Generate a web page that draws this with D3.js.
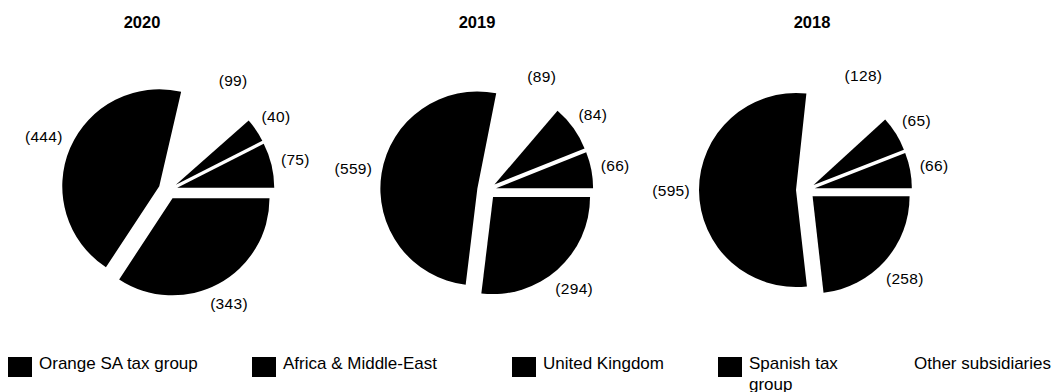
<!DOCTYPE html>
<html>
<head>
<meta charset="utf-8">
<script src="https://cdn.jsdelivr.net/npm/d3@7"></script>
<style>
  html, body { margin: 0; padding: 0; background: #fff; }
  svg { display: block; font-family: "Liberation Sans", Arial, sans-serif; }
</style>
</head>
<body>
<svg id="chart" width="1061" height="392"></svg>
<script>
// Income tax by tax group (in millions of euros), one pie per year
const years = ["2020", "2019", "2018"];
const categories = ["Orange SA tax group", "Africa & Middle-East", "United Kingdom", "Spanish tax group", "Other subsidiaries"];
const values2020 = [444, 343, 75, 40, 99];
const values2019 = [559, 294, 66, 84, 89];
const values2018 = [595, 258, 66, 65, 128];
const sliceColors = ["#000000", "#000000", "#000000", "#000000", "#ffffff"];

const seriesByYear = { "2020": values2020, "2019": values2019, "2018": values2018 };

const radius = 97;
const explode = 9.5;
const labelGap = 6;

const svg = d3.select("#chart");

const pieX = d3.scalePoint().domain(years).range([168, 805.5]);
const titleX = d3.scalePoint().domain(years).range([142, 812]);
const pieY = 190;

const arc = d3.arc().innerRadius(0).outerRadius(radius);
const color = d3.scaleOrdinal().domain(categories).range(sliceColors);

years.forEach(year => {
  const values = seriesByYear[year];
  const total = d3.sum(values);
  // Slices run counter-clockwise; the first two groups end at three o'clock
  const start = Math.PI / 2 + 2 * Math.PI * (values[0] + values[1]) / total;
  const pie = d3.pie().sort(null).value(d => d.value)
    .startAngle(start).endAngle(start - 2 * Math.PI);

  const arcs = pie(values.map((v, i) => ({ name: categories[i], value: v })));

  const g = svg.append("g")
    .attr("transform", `translate(${pieX(year)},${pieY})`);

  // Exploded slices
  g.selectAll("path.slice")
    .data(arcs)
    .join("path")
    .attr("class", "slice")
    .attr("d", arc)
    .attr("fill", d => color(d.data.name))
    .attr("transform", d => {
      const m = (d.startAngle + d.endAngle) / 2;
      return `translate(${explode * Math.sin(m)},${-explode * Math.cos(m)})`;
    });

  // Value labels just outside each slice
  const labels = g.selectAll("text.value")
    .data(arcs)
    .join("text")
    .attr("class", "value")
    .attr("text-anchor", "middle")
    .attr("dominant-baseline", "central")
    .attr("font-size", 15.5)
    .attr("letter-spacing", 0.3)
    .attr("fill", "#000")
    .text(d => `(${d.data.value})`);

  labels.each(function (d) {
    const box = this.getBBox();
    const m = (d.startAngle + d.endAngle) / 2;
    const s = Math.sin(m), c = -Math.cos(m);
    const ext = Math.abs(s) * (box.width / 2 + 3) + Math.abs(c) * 6.5;
    const r = radius + explode + labelGap + ext;
    d3.select(this).attr("x", r * s).attr("y", r * c);
  });

  // Year title
  svg.append("text")
    .attr("x", titleX(year))
    .attr("y", 28)
    .attr("text-anchor", "middle")
    .attr("font-size", 16.5)
    .attr("font-weight", "bold")
    .attr("fill", "#000")
    .text(year);
});

// Legend
const legendX = [8, 252, 512, 718, 883];
const swatchW = 24, swatchH = 20, legendY = 357, textPad = 7;

const legend = svg.append("g").attr("class", "legend");
categories.forEach((name, i) => {
  const x0 = legendX[i];
  legend.append("rect")
    .attr("x", x0).attr("y", legendY)
    .attr("width", swatchW).attr("height", swatchH)
    .attr("fill", color(name));

  const tx = x0 + swatchW + textPad;
  const maxW = i < categories.length - 1 ? legendX[i + 1] - tx - 20 : Infinity;
  const text = legend.append("text")
    .attr("x", tx).attr("y", legendY + 11.5)
    .attr("font-size", 17)
    .attr("fill", "#000");

  // Wrap the entry onto a second line when it would run into the next one
  const words = name.split(" ");
  let line = [];
  let tspan = text.append("tspan").attr("x", tx).attr("y", legendY + 11.5);
  let lineNo = 0;
  words.forEach(w => {
    line.push(w);
    tspan.text(line.join(" "));
    if (tspan.node().getComputedTextLength() > maxW && line.length > 1) {
      line.pop();
      tspan.text(line.join(" "));
      line = [w];
      lineNo += 1;
      tspan = text.append("tspan").attr("x", tx).attr("y", legendY + 11.5 + lineNo * 21).text(w);
    }
  });
});
</script>
</body>
</html>
